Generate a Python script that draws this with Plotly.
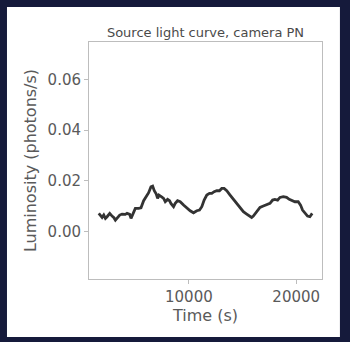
import plotly.graph_objects as go

time_s = [1610, 1765, 1919, 2074, 2229, 2384, 2632, 2848, 3003, 3158, 3313, 3560, 3777, 4087,
          4241, 4489, 4613, 4799, 5015, 5325, 5542, 5789, 6037, 6254, 6471, 6625, 6780, 6966,
          7090, 7214, 7430, 7647, 7802, 8019, 8204, 8328, 8576, 8731, 8947, 9195, 9505, 9814,
          10124, 10433, 10743, 10991, 11207, 11424, 11672, 11920, 12136, 12353, 12601, 12848,
          13065, 13282, 13529, 13839, 14149, 14458, 14768, 15077, 15387, 15697, 15851, 16006,
          16316, 16625, 16935, 17245, 17554, 17802, 18019, 18266, 18483, 18793, 19102, 19350,
          19567, 19876, 20186, 20403, 20588, 20805, 21053, 21269, 21486]
luminosity = [0.00722, 0.00657, 0.00565, 0.00657, 0.00525, 0.00591, 0.00722, 0.00617, 0.00565,
              0.00460, 0.00525, 0.00657, 0.00696, 0.00683, 0.00722, 0.00683, 0.00525, 0.00722,
              0.00919, 0.00919, 0.00945, 0.01221, 0.01379, 0.01536, 0.01773, 0.01799, 0.01615,
              0.01484, 0.01313, 0.01444, 0.01379, 0.01313, 0.01182, 0.01274, 0.01221, 0.01116,
              0.00985, 0.01116, 0.01221, 0.01182, 0.01050, 0.00919, 0.00827, 0.00748, 0.00827,
              0.00853, 0.00985, 0.01247, 0.01444, 0.01510, 0.01510, 0.01576, 0.01615, 0.01615,
              0.01707, 0.01707, 0.01615, 0.01444, 0.01274, 0.01116, 0.00919, 0.00788, 0.00696,
              0.00591, 0.00565, 0.00617, 0.00788, 0.00958, 0.01011, 0.01050, 0.01116, 0.01247,
              0.01274, 0.01247, 0.01352, 0.01379, 0.01352, 0.01274, 0.01247, 0.01182, 0.01182,
              0.01050, 0.00853, 0.00722, 0.00617, 0.00591, 0.00722]
x_ticks = [10000, 20000]
x_tick_labels = ["10000", "20000"]
y_ticks = [0.00, 0.02, 0.04, 0.06]
y_tick_labels = ["0.00", "0.02", "0.04", "0.06"]

FONT = "DejaVu Sans"
TXT = "#5a5a5a"
SPINE = "#bdbdbd"
BG = "#151a3b"

fig = go.Figure()
fig.add_trace(go.Scatter(x=time_s, y=luminosity, mode="lines",
                         line=dict(color="#333333", width=2.8), hoverinfo="skip",
                         showlegend=False))

fig.add_shape(type="rect", xref="paper", yref="paper",
              x0=-0.352, x1=1.077, y0=-0.245, y1=1.148,
              fillcolor="white", line=dict(width=0), layer="below")

fig.update_layout(
    width=350, height=342,
    margin=dict(l=89, r=28, t=42, b=63),
    paper_bgcolor=BG,
    plot_bgcolor="white",
    title=dict(text="Source light curve, camera PN", x=0.5, xref="paper",
               y=1, yref="paper", yanchor="bottom", pad=dict(b=5),
               font=dict(family=FONT, size=13, color="#4a4a4a")),
    font=dict(family=FONT, color=TXT),
)
fig.update_xaxes(range=[700, 22400], tickvals=x_ticks, ticktext=x_tick_labels,
                 ticks="outside", ticklen=4, tickcolor=SPINE, showgrid=False, zeroline=False,
                 showline=True, linecolor=SPINE, linewidth=1, mirror=True,
                 tickfont=dict(family=FONT, size=15, color=TXT),
                 title=dict(text="Time (s)", font=dict(family=FONT, size=16, color=TXT), standoff=4))
fig.update_yaxes(range=[-0.0186, 0.0747], tickvals=y_ticks, ticktext=y_tick_labels,
                 ticks="outside", ticklen=4, tickcolor=SPINE, showgrid=False, zeroline=False,
                 showline=True, linecolor=SPINE, linewidth=1, mirror=True,
                 tickfont=dict(family=FONT, size=15, color=TXT),
                 title=dict(text="Luminosity (photons/s)", font=dict(family=FONT, size=16, color=TXT), standoff=6))

fig.write_html("out.html", config={"displayModeBar": False},
               post_script="document.body.style.margin='0';document.body.style.background='%s';" % BG)
